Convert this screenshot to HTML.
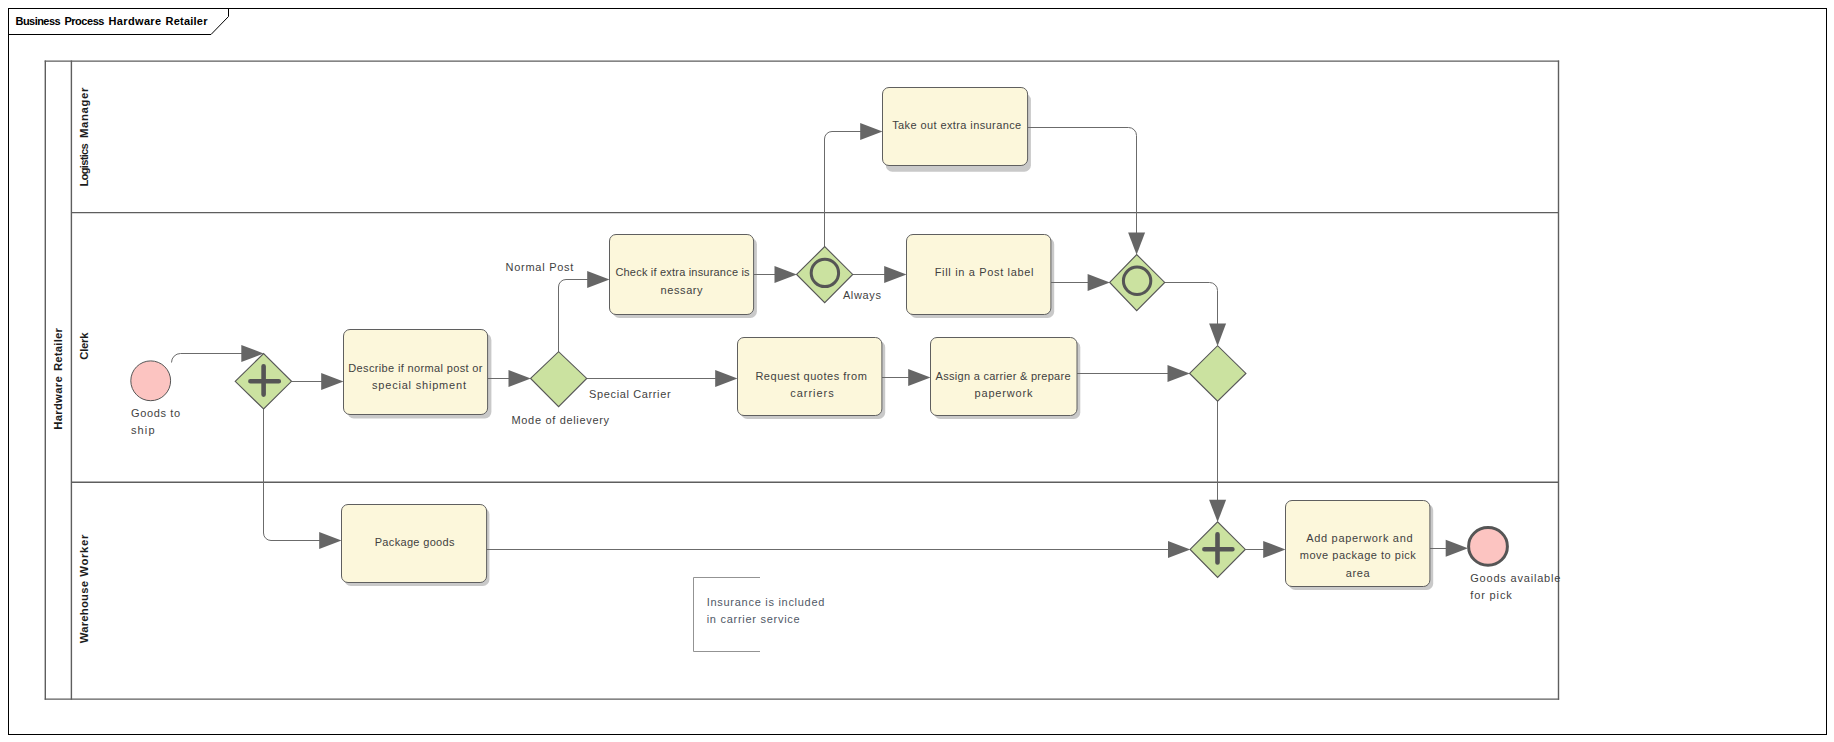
<!DOCTYPE html>
<html>
<head>
<meta charset="utf-8">
<title>Business Process Hardware Retailer</title>
<style>
html, body { margin: 0; padding: 0; background: #ffffff; }
body { width: 1834px; height: 742px; overflow: hidden; font-family: "Liberation Sans", sans-serif; }
svg { display: block; }
svg text { font-family: "Liberation Sans", sans-serif; }
</style>
</head>
<body>
<svg width="1834" height="742" viewBox="0 0 1834 742">
<rect x="0" y="0" width="1834" height="742" fill="#ffffff"/>
<rect x="347.3" y="333.4" width="144.1" height="85.0" rx="6.5" ry="6.5" fill="#c9c9c9"/>
<rect x="612.8" y="237.9" width="144.1" height="80.0" rx="6.5" ry="6.5" fill="#c9c9c9"/>
<rect x="885.8" y="93.7" width="145.1" height="78.0" rx="6.5" ry="6.5" fill="#c9c9c9"/>
<rect x="909.8" y="237.9" width="144.4" height="80.0" rx="6.5" ry="6.5" fill="#c9c9c9"/>
<rect x="740.8" y="340.9" width="144.4" height="78.0" rx="6.5" ry="6.5" fill="#c9c9c9"/>
<rect x="933.8" y="340.9" width="146.5" height="78.0" rx="6.5" ry="6.5" fill="#c9c9c9"/>
<rect x="344.3" y="507.9" width="145.1" height="78.0" rx="6.5" ry="6.5" fill="#c9c9c9"/>
<rect x="1288.8" y="503.9" width="144.4" height="86.0" rx="6.5" ry="6.5" fill="#c9c9c9"/>
<rect x="8.5" y="8.5" width="1818" height="726" fill="none" stroke="#000" stroke-width="1"/>
<path d="M8.5,34.5 H211 L228.5,16.5 V8.5" fill="none" stroke="#000" stroke-width="1"/>
<text x="15.5" y="25" font-size="11" font-weight="bold" fill="#000" text-anchor="start" textLength="45.1" lengthAdjust="spacing">Business</text>
<text x="64.4" y="25" font-size="11" font-weight="bold" fill="#000" text-anchor="start" textLength="40.0" lengthAdjust="spacing">Process</text>
<text x="108.5" y="25" font-size="11" font-weight="bold" fill="#000" text-anchor="start" textLength="52.6" lengthAdjust="spacing">Hardware</text>
<text x="165.5" y="25" font-size="11" font-weight="bold" fill="#000" text-anchor="start" textLength="42.0" lengthAdjust="spacing">Retailer</text>
<path d="M45.3,60.5 V699.7 M71.4,60.5 V699.7 M1558.5,60.5 V699.7" fill="none" stroke="#5e5e5e" stroke-width="1.4"/>
<path d="M44.7,61.1 H1559.1 M44.7,699.1 H1559.1 M71.4,212.6 H1558.5 M71.4,482.2 H1558.5" fill="none" stroke="#5e5e5e" stroke-width="1.4"/>
<text transform="translate(62.3,429.7) rotate(-90)" x="0" y="0" font-size="11.3" font-weight="bold" fill="#1c1c1c" text-anchor="start" textLength="53.4" lengthAdjust="spacing">Hardware</text>
<text transform="translate(62.3,371.0) rotate(-90)" x="0" y="0" font-size="11.3" font-weight="bold" fill="#1c1c1c" text-anchor="start" textLength="42.9" lengthAdjust="spacing">Retailer</text>
<text transform="translate(88.3,186.5) rotate(-90)" x="0" y="0" font-size="11.3" font-weight="bold" fill="#1c1c1c" text-anchor="start" textLength="43.3" lengthAdjust="spacing">Logistics</text>
<text transform="translate(88.3,138.0) rotate(-90)" x="0" y="0" font-size="11.3" font-weight="bold" fill="#1c1c1c" text-anchor="start" textLength="50.5" lengthAdjust="spacing">Manager</text>
<text transform="translate(88.3,359.7) rotate(-90)" x="0" y="0" font-size="11.3" font-weight="bold" fill="#1c1c1c" text-anchor="start" textLength="27.2" lengthAdjust="spacing">Clerk</text>
<text transform="translate(88.3,643.2) rotate(-90)" x="0" y="0" font-size="11.3" font-weight="bold" fill="#1c1c1c" text-anchor="start" textLength="62.2" lengthAdjust="spacing">Warehouse</text>
<text transform="translate(88.3,576.7) rotate(-90)" x="0" y="0" font-size="11.3" font-weight="bold" fill="#1c1c1c" text-anchor="start" textLength="42.0" lengthAdjust="spacing">Worker</text>
<path d="M171.5,362.5 A9,9 0 0 1 180.5,353.5 H243" fill="none" stroke="#6b6b6b" stroke-width="1"/>
<path d="M291.5,381.5 H322" fill="none" stroke="#6b6b6b" stroke-width="1"/>
<path d="M263.5,409 V533 A7.5,7.5 0 0 0 271,540.5 H321" fill="none" stroke="#6b6b6b" stroke-width="1"/>
<path d="M487.5,378.5 H510" fill="none" stroke="#6b6b6b" stroke-width="1"/>
<path d="M558.5,352 V287 A7.5,7.5 0 0 1 566,279.5 H588" fill="none" stroke="#6b6b6b" stroke-width="1"/>
<path d="M586.5,378.5 H717" fill="none" stroke="#6b6b6b" stroke-width="1"/>
<path d="M753.5,274.5 H776" fill="none" stroke="#6b6b6b" stroke-width="1"/>
<path d="M824.5,247 V139 A7.5,7.5 0 0 1 832,131.5 H862" fill="none" stroke="#6b6b6b" stroke-width="1"/>
<path d="M852.5,274.5 H886" fill="none" stroke="#6b6b6b" stroke-width="1"/>
<path d="M1027.5,127.5 H1128.5 A8,8 0 0 1 1136.5,135.5 V234" fill="none" stroke="#6b6b6b" stroke-width="1"/>
<path d="M1051,282.5 H1089" fill="none" stroke="#6b6b6b" stroke-width="1"/>
<path d="M1164.5,282.5 H1209.5 A8,8 0 0 1 1217.5,290.5 V325" fill="none" stroke="#6b6b6b" stroke-width="1"/>
<path d="M882,377.5 H910" fill="none" stroke="#6b6b6b" stroke-width="1"/>
<path d="M1077,373.5 H1169" fill="none" stroke="#6b6b6b" stroke-width="1"/>
<path d="M1217.5,401 V501" fill="none" stroke="#6b6b6b" stroke-width="1"/>
<path d="M486.5,549.5 H1169" fill="none" stroke="#6b6b6b" stroke-width="1"/>
<path d="M1245.5,549.5 H1264" fill="none" stroke="#6b6b6b" stroke-width="1"/>
<path d="M1430,548.5 H1448" fill="none" stroke="#6b6b6b" stroke-width="1"/>
<circle cx="150.7" cy="380.8" r="19.9" fill="#fcc4c1" stroke="#555555" stroke-width="1"/>
<ellipse cx="1488.0" cy="546.4" rx="19.4" ry="18.9" fill="#fcc4c1" stroke="#555555" stroke-width="3"/>
<path d="M235.2,381.3 L263.6,353.5 L291.5,381.3 L263.6,409.0 Z" fill="#cbe2a0" stroke="#575757" stroke-width="1.15" stroke-linejoin="miter"/>
<path d="M250.40000000000003,381.3 H278.8 M263.6,366.2 V394.59999999999997" stroke="#555555" stroke-width="4.6" stroke-linecap="round" fill="none"/>
<path d="M530.6,378.4 L558.6,351.7 L586.7,378.4 L558.6,406.7 Z" fill="#cbe2a0" stroke="#575757" stroke-width="1.15" stroke-linejoin="miter"/>
<path d="M796.6,274.4 L824.7,246.6 L852.7,274.4 L824.7,302.7 Z" fill="#cbe2a0" stroke="#575757" stroke-width="1.15" stroke-linejoin="miter"/>
<circle cx="824.9" cy="272.9" r="13.7" fill="none" stroke="#555555" stroke-width="3"/>
<path d="M1109.7,282.4 L1136.7,254.6 L1164.7,282.4 L1136.7,310.7 Z" fill="#cbe2a0" stroke="#575757" stroke-width="1.15" stroke-linejoin="miter"/>
<circle cx="1137.1" cy="280.8" r="13.7" fill="none" stroke="#555555" stroke-width="3"/>
<path d="M1189.6,373.4 L1217.6,345.7 L1245.9,373.4 L1217.6,401.1 Z" fill="#cbe2a0" stroke="#575757" stroke-width="1.15" stroke-linejoin="miter"/>
<path d="M1190.1,549.4 L1217.6,521.9 L1245.3,549.4 L1217.6,577.4 Z" fill="#cbe2a0" stroke="#575757" stroke-width="1.15" stroke-linejoin="miter"/>
<path d="M1204.4,549.3 H1232.4 M1217.5,534.4 V562.4" stroke="#555555" stroke-width="4.6" stroke-linecap="round" fill="none"/>
<rect x="343.5" y="329.5" width="144.1" height="85.0" rx="6.5" ry="6.5" fill="#fcf7db" stroke="#5f5f5f" stroke-width="1"/>
<rect x="609.5" y="234.5" width="144.1" height="80.0" rx="6.5" ry="6.5" fill="#fcf7db" stroke="#5f5f5f" stroke-width="1"/>
<rect x="882.5" y="87.5" width="145.1" height="78.0" rx="6.5" ry="6.5" fill="#fcf7db" stroke="#5f5f5f" stroke-width="1"/>
<rect x="906.5" y="234.5" width="144.4" height="80.0" rx="6.5" ry="6.5" fill="#fcf7db" stroke="#5f5f5f" stroke-width="1"/>
<rect x="737.5" y="337.5" width="144.4" height="78.0" rx="6.5" ry="6.5" fill="#fcf7db" stroke="#5f5f5f" stroke-width="1"/>
<rect x="930.5" y="337.5" width="146.5" height="78.0" rx="6.5" ry="6.5" fill="#fcf7db" stroke="#5f5f5f" stroke-width="1"/>
<rect x="341.5" y="504.5" width="145.1" height="78.0" rx="6.5" ry="6.5" fill="#fcf7db" stroke="#5f5f5f" stroke-width="1"/>
<rect x="1285.5" y="500.5" width="144.4" height="86.0" rx="6.5" ry="6.5" fill="#fcf7db" stroke="#5f5f5f" stroke-width="1"/>
<path d="M263.6,353.5 L241.3,345.0 L241.3,362.0 Z" fill="#666666"/>
<path d="M343.5,381.4 L321.2,372.9 L321.2,389.9 Z" fill="#666666"/>
<path d="M341.5,540.5 L319.2,532.0 L319.2,549.0 Z" fill="#666666"/>
<path d="M530.8,378.5 L508.49999999999994,370.0 L508.49999999999994,387.0 Z" fill="#666666"/>
<path d="M609.5,279.5 L587.2,271.0 L587.2,288.0 Z" fill="#666666"/>
<path d="M737.5,378.5 L715.2,370.0 L715.2,387.0 Z" fill="#666666"/>
<path d="M796.8,274.4 L774.5,265.9 L774.5,282.9 Z" fill="#666666"/>
<path d="M882.5,131.5 L860.2,123.0 L860.2,140.0 Z" fill="#666666"/>
<path d="M906.5,274.4 L884.2,265.9 L884.2,282.9 Z" fill="#666666"/>
<path d="M1136.6,254.8 L1128.1,232.5 L1145.1,232.5 Z" fill="#666666"/>
<path d="M1109.9,282.4 L1087.6000000000001,273.9 L1087.6000000000001,290.9 Z" fill="#666666"/>
<path d="M1217.6,345.9 L1209.1,323.59999999999997 L1226.1,323.59999999999997 Z" fill="#666666"/>
<path d="M930.5,377.5 L908.2,369.0 L908.2,386.0 Z" fill="#666666"/>
<path d="M1189.8,373.4 L1167.5,364.9 L1167.5,381.9 Z" fill="#666666"/>
<path d="M1217.6,522.1 L1209.1,499.8 L1226.1,499.8 Z" fill="#666666"/>
<path d="M1190.3,549.5 L1168.0,541.0 L1168.0,558.0 Z" fill="#666666"/>
<path d="M1285.5,549.5 L1263.2,541.0 L1263.2,558.0 Z" fill="#666666"/>
<path d="M1468.0,548.3 L1445.7,539.8 L1445.7,556.8 Z" fill="#666666"/>
<text x="415.4" y="372.0" font-size="11" font-weight="normal" fill="#3f3f3f" text-anchor="middle" textLength="134.2" lengthAdjust="spacing">Describe if normal post or</text>
<text x="419.0" y="389.0" font-size="11" font-weight="normal" fill="#3f3f3f" text-anchor="middle" textLength="94" lengthAdjust="spacing">special shipment</text>
<text x="682.5" y="275.9" font-size="11" font-weight="normal" fill="#3f3f3f" text-anchor="middle" textLength="134.2" lengthAdjust="spacing">Check if extra insurance is</text>
<text x="681.6" y="293.9" font-size="11" font-weight="normal" fill="#3f3f3f" text-anchor="middle" textLength="42" lengthAdjust="spacing">nessary</text>
<text x="956.7" y="128.9" font-size="11" font-weight="normal" fill="#3f3f3f" text-anchor="middle" textLength="129" lengthAdjust="spacing">Take out extra insurance</text>
<text x="984.1" y="275.9" font-size="11" font-weight="normal" fill="#3f3f3f" text-anchor="middle" textLength="98.8" lengthAdjust="spacing">Fill in a Post label</text>
<text x="811.1" y="380.0" font-size="11" font-weight="normal" fill="#3f3f3f" text-anchor="middle" textLength="111.4" lengthAdjust="spacing">Request quotes from</text>
<text x="812.0" y="397.0" font-size="11" font-weight="normal" fill="#3f3f3f" text-anchor="middle" textLength="43.4" lengthAdjust="spacing">carriers</text>
<text x="1003.1" y="380.0" font-size="11" font-weight="normal" fill="#3f3f3f" text-anchor="middle" textLength="135" lengthAdjust="spacing">Assign a carrier &amp; prepare</text>
<text x="1003.5" y="397.0" font-size="11" font-weight="normal" fill="#3f3f3f" text-anchor="middle" textLength="58" lengthAdjust="spacing">paperwork</text>
<text x="414.6" y="545.8" font-size="11" font-weight="normal" fill="#3f3f3f" text-anchor="middle" textLength="79.8" lengthAdjust="spacing">Package goods</text>
<text x="1359.4" y="541.7" font-size="11" font-weight="normal" fill="#3f3f3f" text-anchor="middle" textLength="106.3" lengthAdjust="spacing">Add paperwork and</text>
<text x="1357.8" y="559.2" font-size="11" font-weight="normal" fill="#3f3f3f" text-anchor="middle" textLength="116.1" lengthAdjust="spacing">move package to pick</text>
<text x="1357.6" y="576.7" font-size="11" font-weight="normal" fill="#3f3f3f" text-anchor="middle" textLength="23.8" lengthAdjust="spacing">area</text>
<text x="131" y="417.0" font-size="11" font-weight="normal" fill="#3f3f3f" text-anchor="start" textLength="49" lengthAdjust="spacing">Goods to</text>
<text x="131" y="434.0" font-size="11" font-weight="normal" fill="#3f3f3f" text-anchor="start" textLength="23.5" lengthAdjust="spacing">ship</text>
<text x="505.6" y="270.8" font-size="11" font-weight="normal" fill="#3f3f3f" text-anchor="start" textLength="67.7" lengthAdjust="spacing">Normal Post</text>
<text x="589.1" y="397.5" font-size="11" font-weight="normal" fill="#3f3f3f" text-anchor="start" textLength="81.5" lengthAdjust="spacing">Special Carrier</text>
<text x="511.5" y="423.5" font-size="11" font-weight="normal" fill="#3f3f3f" text-anchor="start" textLength="97.5" lengthAdjust="spacing">Mode of delievery</text>
<text x="842.9" y="298.9" font-size="11" font-weight="normal" fill="#3f3f3f" text-anchor="start" textLength="38.0" lengthAdjust="spacing">Always</text>
<text x="1470.2" y="581.9" font-size="11" font-weight="normal" fill="#3f3f3f" text-anchor="start" textLength="90.2" lengthAdjust="spacing">Goods available</text>
<text x="1470.2" y="598.5" font-size="11" font-weight="normal" fill="#3f3f3f" text-anchor="start" textLength="41.6" lengthAdjust="spacing">for pick</text>
<path d="M760,577.5 H693.5 V651.5 H760" fill="none" stroke="#939393" stroke-width="1"/>
<text x="706.7" y="605.6" font-size="11" font-weight="normal" fill="#4f5866" text-anchor="start" textLength="117.7" lengthAdjust="spacing">Insurance is included</text>
<text x="706.7" y="622.6" font-size="11" font-weight="normal" fill="#4f5866" text-anchor="start" textLength="93" lengthAdjust="spacing">in carrier service</text>
</svg>
</body>
</html>
